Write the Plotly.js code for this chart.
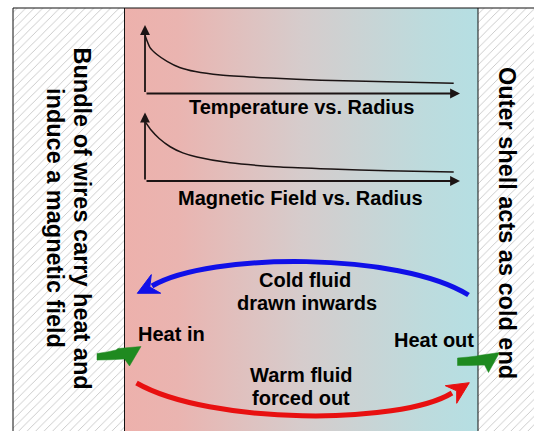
<!DOCTYPE html>
<html>
<head>
<meta charset="utf-8">
<script src="https://cdn.plot.ly/plotly-3.0.1.min.js"></script>
<style>html,body{margin:0;padding:0;background:#fff;}#chart{width:534px;height:431px;}</style>
</head>
<body>
<div id="chart"></div>
<script>
// ---- data ----
const radiusT = [0, 0.16, 0.38, 0.7, 1.1, 1.6, 2.4, 4.0, 5.6, 7.7, 9.8];
const temperature = [8.5, 6.7, 5.7, 4.7, 3.8, 3.2, 2.7, 2.25, 1.95, 1.7, 1.5];
const radiusB = [0, 0.2, 0.45, 0.8, 1.2, 1.65, 2.7, 4.3, 5.9, 7.7, 9.8];
const magneticField = [8.7, 7.4, 6.2, 5.0, 4.1, 3.5, 2.65, 2.05, 1.75, 1.5, 1.3];
const chartTitles = ["Temperature vs. Radius", "Magnetic Field vs. Radius"];
const leftLabel = ["Bundle of wires carry heat and", "induce a magnetic field"];
const rightLabel = "Outer shell acts as cold end";
const coldLabel = ["Cold fluid", "drawn inwards"];
const warmLabel = ["Warm fluid", "forced out"];
const heatLabels = ["Heat in", "Heat out"];

const W = 534, H = 431;
const FONT = "Liberation Sans, Arial, sans-serif";
const ink = "#1c1414";
const hatch = {shape:'/', fgcolor:'#b8b8b8', bgcolor:'#ffffff', size:6, solidity:0.12};

const traces = [
  // hatched inner wire bundle panel
  {x:[13,124.5,124.5,13,13], y:[8,8,440,440,8], xaxis:'x', yaxis:'y', mode:'lines', fill:'toself',
   line:{width:0,color:'rgba(0,0,0,0)'}, fillcolor:'white', fillpattern:hatch,
   hoverinfo:'skip', showlegend:false},
  // hatched outer shell panel
  {x:[478,540,540,478,478], y:[8,8,440,440,8], xaxis:'x', yaxis:'y', mode:'lines', fill:'toself',
   line:{width:0,color:'rgba(0,0,0,0)'}, fillcolor:'white', fillpattern:hatch,
   hoverinfo:'skip', showlegend:false},
  // gradient fluid region
  {x:[124.5,478,478,124.5,124.5], y:[8,8,440,440,8], xaxis:'x', yaxis:'y', mode:'lines', fill:'toself',
   line:{width:0,color:'rgba(0,0,0,0)'},
   fillgradient:{type:'horizontal', colorscale:[[0,'#edb1ac'],[0.15,'#eab4b0'],[0.5,'#d6cccc'],[0.85,'#bddbdd'],[1,'#b5dfe3']]},
   hoverinfo:'skip', showlegend:false},
  // curves
  {x:radiusT, y:temperature, xaxis:'x2', yaxis:'y2', mode:'lines', line:{color:ink, width:1.5, shape:'spline', smoothing:0.6}, hoverinfo:'skip', showlegend:false},
  {x:radiusB, y:magneticField, xaxis:'x3', yaxis:'y3', mode:'lines', line:{color:ink, width:1.5, shape:'spline', smoothing:0.6}, hoverinfo:'skip', showlegend:false}
];

const hidden = {showgrid:false, zeroline:false, showticklabels:false, showline:false, ticks:'', fixedrange:true};
const dx = [145/W, 460/W];

const shapes = [
  // borders
  {type:'line', xref:'x', yref:'y', x0:13, y0:8, x1:540, y1:8, line:{color:'#111', width:1}, layer:'above'},
  {type:'line', xref:'x', yref:'y', x0:13, y0:8, x1:13, y1:440, line:{color:'#111', width:1}, layer:'above'},
  {type:'line', xref:'x', yref:'y', x0:124.5, y0:8, x1:124.5, y1:440, line:{color:'#111', width:1}, layer:'above'},
  {type:'line', xref:'x', yref:'y', x0:478, y0:8, x1:478, y1:440, line:{color:'#111', width:1}, layer:'above'},
  // blue arc + head
  {type:'path', xref:'x', yref:'y', path:'M 468.5 295 C 400 252, 210 252, 152 286', line:{color:'#1010e8', width:5}, layer:'above'},
  {type:'path', xref:'x', yref:'y', path:'M 137.3 293.3 L 151.3 274.6 L 149.8 287 L 160.7 293.2 Z', fillcolor:'#1010e8', line:{color:'#1010e8', width:1}, layer:'above'},
  // red arc + head
  {type:'path', xref:'x', yref:'y', path:'M 136.5 383 C 210 425, 400 425, 452 393', line:{color:'#e81010', width:5}, layer:'above'},
  {type:'path', xref:'x', yref:'y', path:'M 469.3 382.7 L 456.7 403.3 L 456.7 390.8 L 445.3 385.7 Z', fillcolor:'#e81010', line:{color:'#e81010', width:1}, layer:'above'},
  // green heat arrows
  {type:'path', xref:'x', yref:'y', path:'M 97 353.5 Q 108 352 116 350 L 118 348.5 L 141 346.5 L 129.5 366 L 124.5 359 Q 110 360 97 360 Z', fillcolor:'#1f8a20', line:{color:'#1f8a20', width:0.5}, layer:'above'},
  {type:'path', xref:'x', yref:'y', path:'M 457.5 358 Q 470 357 477 356 L 478.5 355.5 L 499.5 352.5 L 488.5 372.5 L 484.5 365 Q 470 365.5 457.5 365.5 Z', fillcolor:'#1f8a20', line:{color:'#1f8a20', width:0.5}, layer:'above'}
];

function axisArrow(xr, yr, x, y) {
  return {xref:xr, yref:yr, axref:xr, ayref:yr, x:x, y:y, ax:0, ay:0, text:'', showarrow:true,
          arrowhead:2, arrowsize:1.1, arrowwidth:1.8, arrowcolor:ink, standoff:0};
}
function label(text, x, y, size, opts) {
  return Object.assign({xref:'x', yref:'y', x:x, y:y, text:'<b>'+text+'</b>', showarrow:false,
    xanchor:'center', yanchor:'middle', font:{family:FONT, size:size, color:'#000'}}, opts||{});
}

const annotations = [
  axisArrow('x2','y2',0,10), axisArrow('x2','y2',10,0),
  axisArrow('x3','y3',0,10), axisArrow('x3','y3',10,0),
  label(chartTitles[0], 301, 107, 20),
  label(chartTitles[1], 300, 198, 20),
  label(coldLabel[0], 305, 280, 20),
  label(coldLabel[1], 306.5, 303.3, 20),
  label(warmLabel[0], 301, 375, 20),
  label(warmLabel[1], 301, 398.3, 20),
  label(heatLabels[0], 135.5, 333.5, 20, {xanchor:'left'}),
  label(heatLabels[1], 475.5, 340, 20, {xanchor:'right'}),
  label(leftLabel[0], 82, 218.5, 23.5, {textangle:90}),
  label(leftLabel[1], 55.5, 217.5, 23.5, {textangle:90}),
  label(rightLabel, 507.5, 222.5, 23.5, {textangle:90})
];

const layout = {
  width:W, height:H, margin:{l:0,r:0,t:0,b:0,pad:0},
  paper_bgcolor:'#ffffff', plot_bgcolor:'rgba(0,0,0,0)', showlegend:false,
  xaxis:Object.assign({range:[0,W], domain:[0,1]}, hidden),
  yaxis:Object.assign({range:[H,0], domain:[0,1]}, hidden),
  xaxis2:Object.assign({range:[0,10], domain:dx, anchor:'y2'}, hidden),
  yaxis2:Object.assign({range:[0,10], domain:[1-93.5/H, 1-25/H], anchor:'x2'}, hidden),
  xaxis3:Object.assign({range:[0,10], domain:dx, anchor:'y3'}, hidden),
  yaxis3:Object.assign({range:[0,10], domain:[1-181/H, 1-112.5/H], anchor:'x3'}, hidden),
  shapes:shapes, annotations:annotations
};

Plotly.newPlot('chart', traces, layout, {staticPlot:true, displayModeBar:false});
</script>
</body>
</html>
